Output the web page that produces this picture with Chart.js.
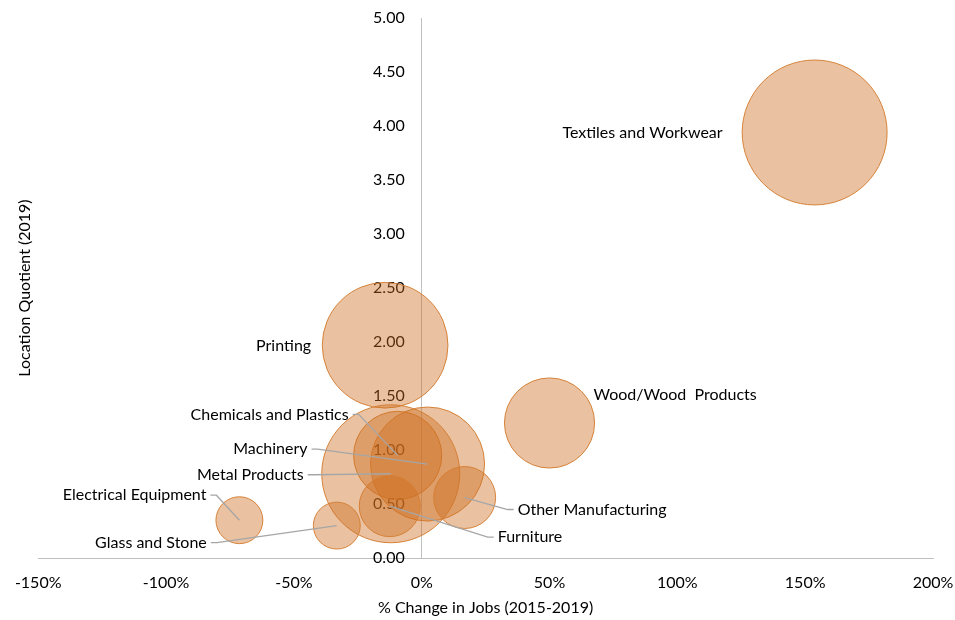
<!DOCTYPE html>
<html>
<head>
<meta charset="utf-8">
<script src="https://cdn.jsdelivr.net/npm/chart.js@4.4.1/dist/chart.umd.min.js"></script>
<style>
  html, body { margin: 0; padding: 0; background: #fff; }
  #wrap { width: 955px; height: 620px; position: relative; }
</style>
</head>
<body>
<div id="wrap"><canvas id="bubbleChart"></canvas></div>
<script>
// Industries
const industries = [
  "Textiles and Workwear", "Printing", "Wood/Wood  Products", "Chemicals and Plastics",
  "Machinery", "Metal Products", "Electrical Equipment", "Glass and Stone",
  "Other Manufacturing", "Furniture"
];
// % change in jobs 2015-2019
const jobChange = [153.7, -14.3, 50.0, -9.4, 2.3, -12.1, -71.3, -33.2, 16.8, -12.5];
// location quotient 2019
const locationQuotient = [3.94, 1.97, 1.25, 0.95, 0.87, 0.78, 0.35, 0.30, 0.56, 0.48];
// relative bubble size (area)
const bubbleSize = [52.5, 39.5, 20.3, 19.4, 32.5, 47.6, 5.5, 5.5, 9.6, 9.3];

const xTicks = [-150, -100, -50, 0, 50, 100, 150, 200];
const yTicks = [0, 0.5, 1, 1.5, 2, 2.5, 3, 3.5, 4, 4.5, 5];

// label placement relative to the bubble centre (px)
const labelPlacement = [
  { dx: -92, dy: 0, align: "right", leader: false },
  { dx: -74, dy: 1, align: "right", leader: false },
  { dx: 44, dy: -28, align: "left", leader: false },
  { dx: -49, dy: -41, align: "right", leader: true },
  { dx: -120, dy: -15, align: "right", leader: true },
  { dx: -87, dy: 1, align: "right", leader: true },
  { dx: -33, dy: -25, align: "right", leader: true },
  { dx: -130, dy: 17, align: "right", leader: true },
  { dx: 53, dy: 12, align: "left", leader: true },
  { dx: 108, dy: 31, align: "left", leader: true }
];

Chart.defaults.font.family = "Lato, 'Noto Sans', sans-serif";
Chart.defaults.font.size = 16;
Chart.defaults.color = "#000";

const points = industries.map((name, i) => ({
  x: jobChange[i],
  y: locationQuotient[i],
  r: Math.sqrt(bubbleSize[i]) * 10
}));

const bubbleLabels = {
  id: "bubbleLabels",
  afterDatasetsDraw(chart) {
    const ctx = chart.ctx;
    const meta = chart.getDatasetMeta(0);
    ctx.save();
    ctx.font = "16px Lato, 'Noto Sans', sans-serif";
    ctx.textBaseline = "middle";
    meta.data.forEach((el, i) => {
      const p = labelPlacement[i];
      const tx = el.x + p.dx;
      const ty = el.y + p.dy;
      ctx.fillStyle = "#000";
      ctx.textAlign = p.align;
      ctx.fillText(industries[i], tx, ty);
      if (p.leader) {
        const sx = p.align === "right" ? tx + 4 : tx - 4;
        const ex = p.align === "right" ? sx + 6 : sx - 6;
        ctx.strokeStyle = "#a6a6a6";
        ctx.lineWidth = 1.3;
        ctx.beginPath();
        ctx.moveTo(sx, ty);
        ctx.lineTo(ex, ty);
        ctx.lineTo(el.x, el.y);
        ctx.stroke();
      }
    });
    ctx.restore();
  }
};

// the y axis sits at x = 0, where chart.js ignores tick padding: shift labels left
function shiftYLabels(scale) {
  const base = Object.getPrototypeOf(scale)._computeLabelItems;
  scale._computeLabelItems = function (area) {
    const items = base.call(this, area);
    items.forEach(item => { item.options.translation[0] -= 17; });
    return items;
  };
}

new Chart(document.getElementById("bubbleChart"), {
  type: "bubble",
  data: {
    datasets: [{
      data: points,
      backgroundColor: "rgba(205, 110, 30, 0.42)",
      borderColor: "rgba(212, 125, 50, 0.95)",
      borderWidth: 1
    }]
  },
  options: {
    responsive: true,
    maintainAspectRatio: false,
    animation: false,
    layout: { autoPadding: false, padding: { top: 18, right: 22, left: 11, bottom: 2 } },
    plugins: {
      legend: { display: false },
      tooltip: { enabled: false }
    },
    scales: {
      x: {
        type: "linear",
        position: "bottom",
        min: xTicks[0],
        max: xTicks[xTicks.length - 1],
        afterBuildTicks: scale => { scale.ticks = xTicks.map(v => ({ value: v })); },
        afterFit: scale => {
          scale.paddingLeft = 0;
          scale.paddingRight = 0;
          scale.height = 60;
        },
        ticks: { padding: 15, maxRotation: 0, callback: v => v + "%" },
        grid: { display: false, drawTicks: false },
        border: { display: true, color: "#bfbfbf", width: 1 },
        title: { display: true, text: "% Change in Jobs (2015-2019)", padding: { top: 4, bottom: 1 } }
      },
      y: {
        type: "linear",
        position: { x: 0 },
        min: yTicks[0],
        max: yTicks[yTicks.length - 1],
        z: 1,
        afterBuildTicks: scale => { scale.ticks = yTicks.map(v => ({ value: v })); },
        afterFit: scale => {
          scale.paddingTop = 0;
          scale.paddingBottom = 0;
        },
        afterUpdate: shiftYLabels,
        ticks: { callback: v => Number(v).toFixed(2) },
        grid: { display: false, drawTicks: false },
        border: { display: true, color: "#bfbfbf", width: 1 }
      },
      yTitle: {
        type: "linear",
        position: "left",
        axis: "y",
        min: 0,
        max: 5,
        ticks: { display: false },
        grid: { display: false, drawTicks: false },
        border: { display: false },
        title: { display: true, text: "Location Quotient (2019)", padding: { top: 4, bottom: 4 } }
      }
    }
  },
  plugins: [bubbleLabels]
});
</script>
</body>
</html>
